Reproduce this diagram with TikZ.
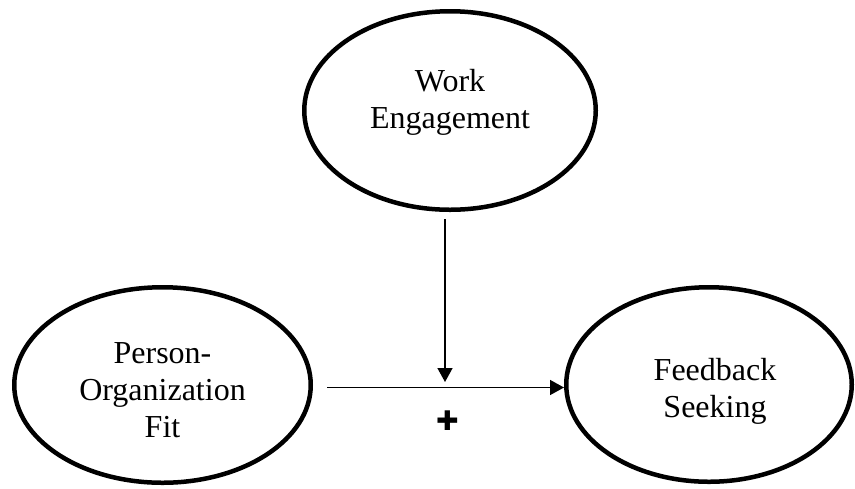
\documentclass[tikz,border=0pt]{standalone}
\usepackage{fontspec}
\setmainfont{Liberation Serif}
\newfontfamily\crossfont{DejaVu Sans}
\usetikzlibrary{arrows.meta,shapes.geometric}

\begin{document}
\begin{tikzpicture}[x=0.5pt,y=-0.5pt,
		construct/.style={ellipse, draw, line width=2.25pt, inner sep=0pt, align=center, text depth=0pt, font=\fontsize{16}{18.4}\selectfont},
		path arrow/.style={line width=0.75pt, -{Triangle[length=7pt,width=7.5pt]}}]
			%%%%% START %%%%%
			
			\useasboundingbox (0,0) rectangle (855,488);
			
			\node[construct, minimum width=145.75pt, minimum height=99.25pt, text height=17.5pt] (engage) at (450,110.5) {Work\\Engagement};
			\node[construct, minimum width=148.25pt, minimum height=97.75pt, text height=52pt] (pofit) at (162.5,385) {Person-\\Organization\\Fit};
			\node[construct, minimum width=142.75pt, minimum height=97.25pt, text height=32.5pt] (seeking) at (709,384.5) {\hspace*{6pt}Feedback\\\hspace*{6pt}Seeking};
			
			\coordinate (modstart) at ([xshift=-2.5pt,yshift=-3.5pt]engage.south);
			\coordinate (modend) at (445,382);
			\coordinate (pathstart) at ([xshift=7pt,yshift=-1.25pt]pofit.east);
			
			\draw[path arrow] (modstart) -- (modend);
			\draw[path arrow] (pathstart) -- (pathstart -| seeking.west);
			
			\node[font=\crossfont\fontsize{13.5}{13.5}\selectfont, inner sep=0pt] (sign) at (447.5,421) {✚};
			
			%%%%% END %%%%%
		\end{tikzpicture}
\end{document}
